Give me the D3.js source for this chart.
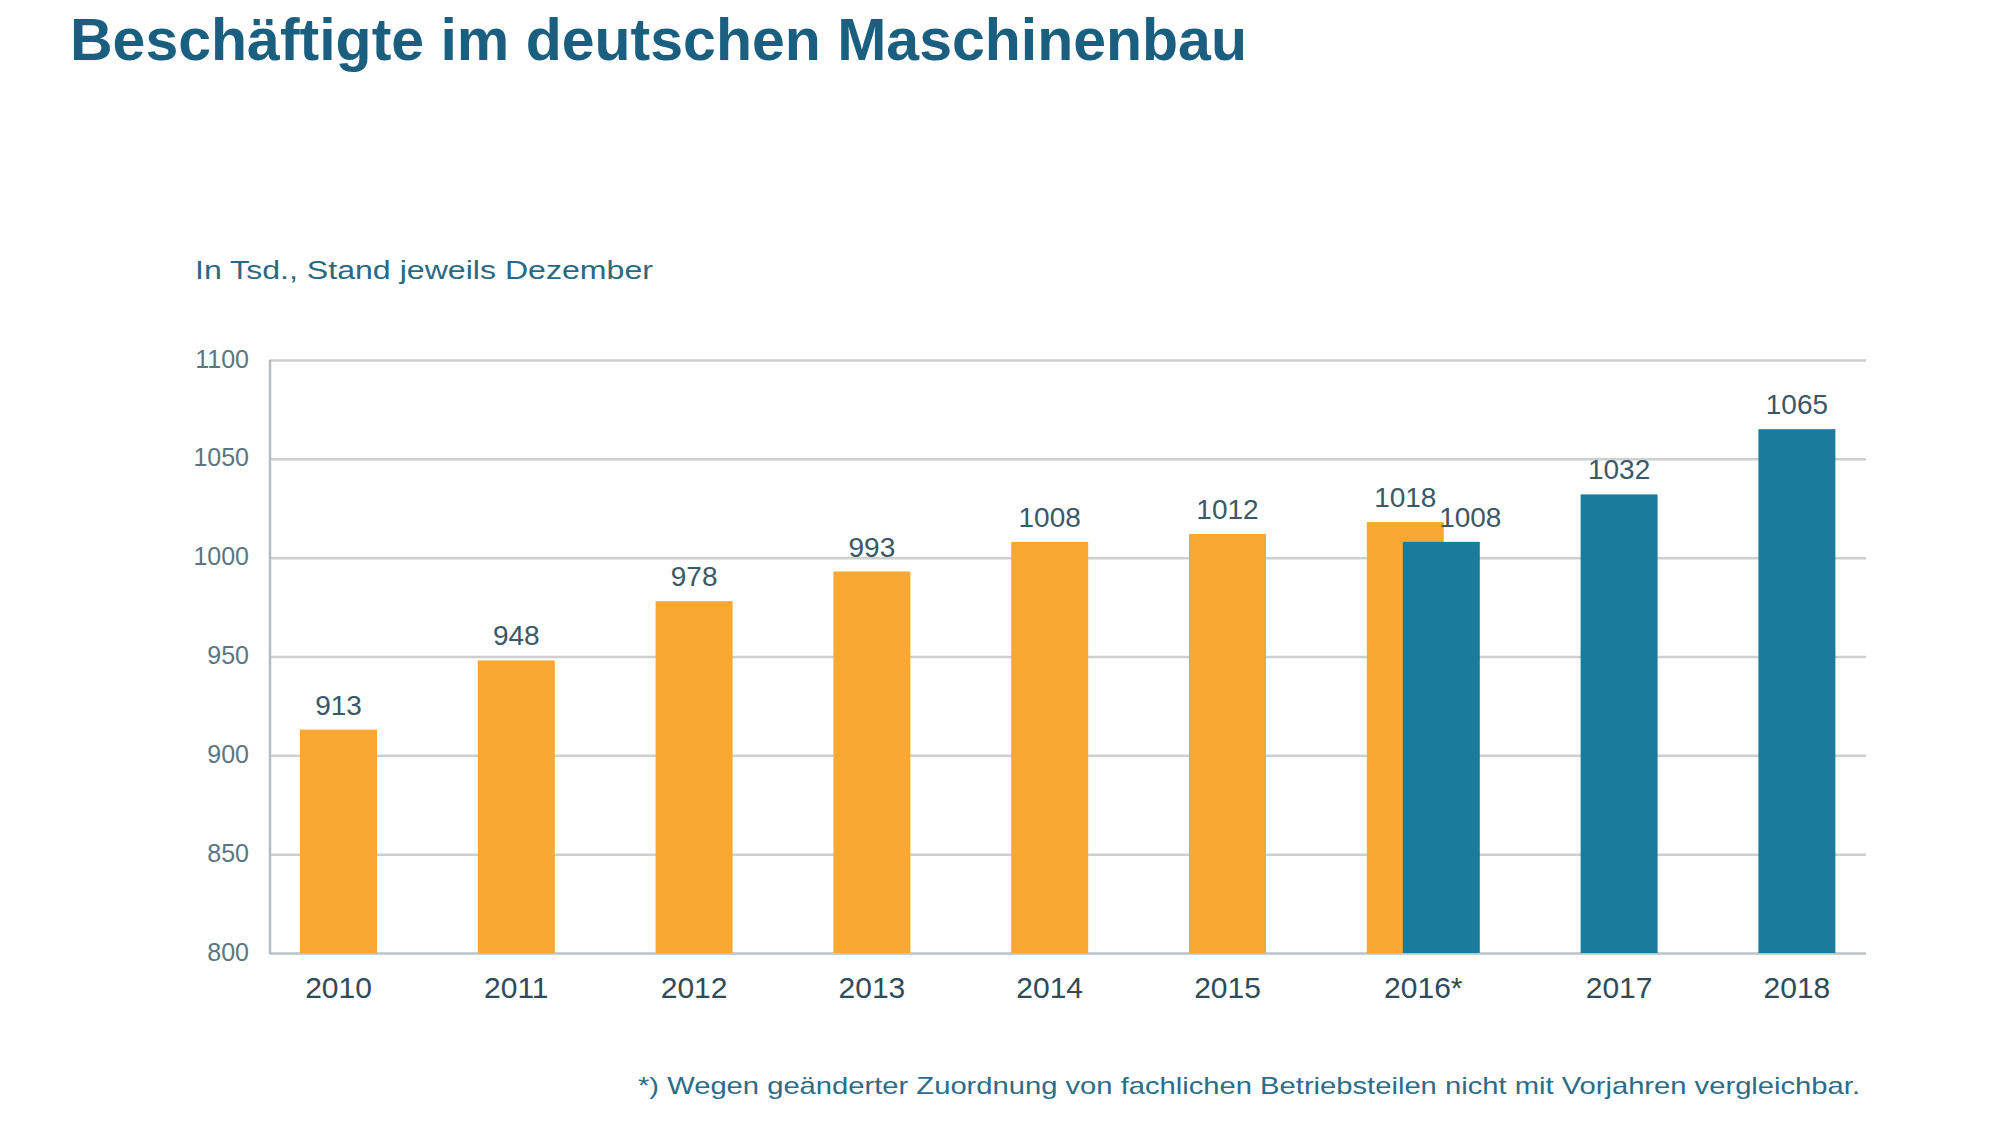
<!DOCTYPE html>
<html>
<head>
<meta charset="utf-8">
<script src="https://cdn.jsdelivr.net/npm/d3@7"></script>
<style>
  html, body { margin: 0; padding: 0; background: #fff; }
  svg { display: block; font-family: 'Liberation Sans', Arial, sans-serif; }
</style>
</head>
<body>
<svg id="chart" width="2000" height="1125"></svg>
<script>
const years = ['2010', '2011', '2012', '2013', '2014', '2015', '2016', '2017', '2018'];
const yearLabels = ['2010', '2011', '2012', '2013', '2014', '2015', '2016*', '2017', '2018'];
// alte Abgrenzung (orange) und neue Abgrenzung (blau), null = kein Wert
const oldSeries = [913, 948, 978, 993, 1008, 1012, 1018, null, null];
const newSeries = [null, null, null, null, null, null, 1008, 1032, 1065];
const yTicks = [800, 850, 900, 950, 1000, 1050, 1100];

const title = 'Beschäftigte im deutschen Maschinenbau';
const subtitle = 'In Tsd., Stand jeweils Dezember';
const footnote = '*) Wegen geänderter Zuordnung von fachlichen Betriebsteilen nicht mit Vorjahren vergleichbar.';

const orange = '#f8a833';
const blue = '#1b7b9d';

const svg = d3.select('#chart');
const plot = { left: 270, right: 1866, top: 360, bottom: 953 };
const barWidth = 77;
const blueShift = 36;

const xScale = d3
  .scalePoint()
  .domain(years)
  .range([338.5, 338.5 + 8 * 177.8]);

const yScale = d3
  .scaleLinear()
  .domain([800, 1100])
  .range([plot.bottom, plot.top]);

svg.append('rect').attr('width', 2000).attr('height', 1125).attr('fill', '#fff');

// Texte
svg
  .append('text')
  .attr('x', 70)
  .attr('y', 60)
  .attr('font-size', 59)
  .attr('font-weight', 'bold')
  .attr('fill', '#1a5f7f')
  .text(title);

svg
  .append('text')
  .attr('x', 195)
  .attr('y', 279)
  .attr('font-size', 26)
  .attr('fill', '#2b6982')
  .attr('textLength', 458)
  .attr('lengthAdjust', 'spacingAndGlyphs')
  .text(subtitle);

svg
  .append('text')
  .attr('x', 638)
  .attr('y', 1094)
  .attr('font-size', 24)
  .attr('fill', '#2c6c89')
  .attr('textLength', 1222)
  .attr('lengthAdjust', 'spacingAndGlyphs')
  .text(footnote);

// Gitter + y-Achse
const yAxis = d3
  .axisLeft(yScale)
  .tickValues(yTicks)
  .tickFormat(d3.format('d'))
  .tickSizeInner(-(plot.right - plot.left))
  .tickSizeOuter(0)
  .tickPadding(21);

const y = svg
  .append('g')
  .attr('class', 'yaxis')
  .attr('transform', `translate(${plot.left},0)`)
  .call(yAxis);

y.selectAll('.domain').remove();

y.selectAll('.tick')
  .selectAll('line')
  .attr('stroke', '#cdcfd0')
  .attr('stroke-width', 2.5);

y.selectAll('.tick')
  .selectAll('text')
  .attr('font-size', 25)
  .attr('fill', '#5a7684')
  .attr('font-family', "'Liberation Sans', Arial, sans-serif")
  .attr('dy', '0.28em');

y.selectAll('.tick')
  .filter((d) => d === 800)
  .select('line')
  .attr('stroke', '#b9c3c8');

svg
  .append('line')
  .attr('x1', plot.left)
  .attr('x2', plot.left)
  .attr('y1', plot.top)
  .attr('y2', plot.bottom + 1)
  .attr('stroke', '#b3bec4')
  .attr('stroke-width', 2.5);

// Balken
const bars = svg.append('g').attr('class', 'bars');

const oldData = years
  .map((year, i) => ({ year, value: oldSeries[i] }))
  .filter((d) => d.value !== null);
const newData = years
  .map((year, i) => ({ year, value: newSeries[i] }))
  .filter((d) => d.value !== null);

bars
  .selectAll('.old')
  .data(oldData)
  .enter()
  .append('rect')
  .attr('class', 'old')
  .attr('x', (d) => xScale(d.year) - barWidth / 2)
  .attr('y', (d) => yScale(d.value))
  .attr('width', barWidth)
  .attr('height', (d) => yScale(800) - yScale(d.value))
  .attr('fill', orange);

bars
  .selectAll('.new')
  .data(newData)
  .enter()
  .append('rect')
  .attr('class', 'new')
  .attr('x', (d) => xScale(d.year) + blueShift - barWidth / 2)
  .attr('y', (d) => yScale(d.value))
  .attr('width', barWidth)
  .attr('height', (d) => yScale(800) - yScale(d.value))
  .attr('fill', blue);

// Wertebeschriftung
const labels = svg.append('g').attr('class', 'values');

labels
  .selectAll('.oldlabel')
  .data(oldData)
  .enter()
  .append('text')
  .attr('x', (d) => xScale(d.year))
  .attr('y', (d) => yScale(d.value) - 15)
  .attr('text-anchor', 'middle')
  .attr('font-size', 28)
  .attr('fill', '#3b5866')
  .text((d) => d.value);

labels
  .selectAll('.newlabel')
  .data(newData)
  .enter()
  .append('text')
  .attr('x', (d) => {
    // 2016: Beschriftung nach rechts versetzt, damit sie nicht mit 1018 kollidiert
    const nudge = d.year === '2016' ? 29 : 0;
    return xScale(d.year) + blueShift + nudge;
  })
  .attr('y', (d) => yScale(d.value) - 15)
  .attr('text-anchor', 'middle')
  .attr('font-size', 28)
  .attr('fill', '#3b5866')
  .text((d) => d.value);

// x-Beschriftung: mittig unter den vorhandenen Balken
svg
  .append('g')
  .attr('class', 'xaxis')
  .selectAll('text')
  .data(years)
  .enter()
  .append('text')
  .attr('x', (d, i) => {
    const centers = [];
    if (oldSeries[i] !== null) centers.push(xScale(d));
    if (newSeries[i] !== null) centers.push(xScale(d) + blueShift);
    return d3.mean(centers);
  })
  .attr('y', 998)
  .attr('text-anchor', 'middle')
  .attr('font-size', 30)
  .attr('fill', '#2f4b59')
  .text((d, i) => yearLabels[i]);
</script>
</body>
</html>
